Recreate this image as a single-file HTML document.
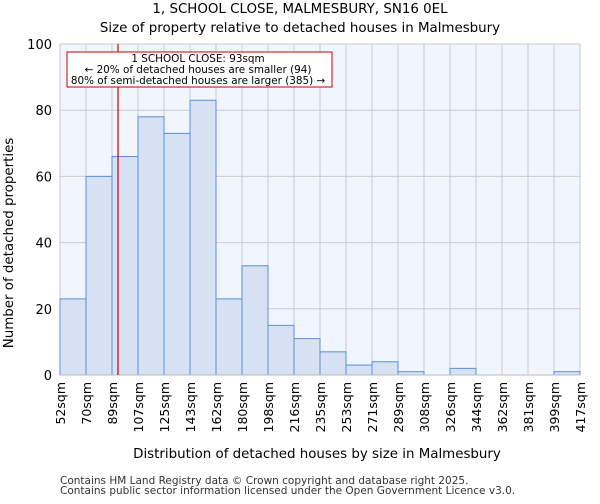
<!DOCTYPE html>
<html><head><meta charset="utf-8"><style>
body{margin:0;background:#fff;font-family:"DejaVu Sans","Liberation Sans",sans-serif}
svg text{font-family:"DejaVu Sans","Liberation Sans",sans-serif}
</style></head><body>
<svg id="c" width="600" height="500">
<text x="300" y="13" font-size="13.4" text-anchor="middle">1, SCHOOL CLOSE, MALMESBURY, SN16 0EL</text>
<text x="300" y="32" font-size="13.4" text-anchor="middle">Size of property relative to detached houses in Malmesbury</text>
<rect x="60" y="44" width="520" height="331" fill="#f1f5fd"/>
<g id="grid"></g><g id="bars"></g><g id="axes"></g>
<text transform="translate(13,243) rotate(-90)" font-size="13.4" text-anchor="middle">Number of detached properties</text>
<text x="317" y="458" font-size="13.4" text-anchor="middle">Distribution of detached houses by size in Malmesbury</text>
<text x="60" y="484" font-size="10.5" fill="#333">Contains HM Land Registry data © Crown copyright and database right 2025.</text>
<text x="60" y="494" font-size="10.5" fill="#333">Contains public sector information licensed under the Open Government Licence v3.0.</text>
<line x1="118" y1="44" x2="118" y2="375" stroke="#cc0000" stroke-width="1.2"/>
<rect x="67" y="52" width="265" height="35" fill="#fff" stroke="#cc0000"/>
<text x="198" y="62" font-size="10.4" text-anchor="middle">1 SCHOOL CLOSE: 93sqm</text>
<text x="198" y="73" font-size="10.4" text-anchor="middle">← 20% of detached houses are smaller (94)</text>
<text x="198" y="84" font-size="10.4" text-anchor="middle">80% of semi-detached houses are larger (385) →</text>
</svg>
<script>
const categories=["52sqm","70sqm","89sqm","107sqm","125sqm","143sqm","162sqm","180sqm","198sqm","216sqm","235sqm","253sqm","271sqm","289sqm","308sqm","326sqm","344sqm","362sqm","381sqm","399sqm","417sqm"];
const counts=[23,60,66,78,73,83,23,33,15,11,7,3,4,1,0,2,0,0,0,1];
const yTicks=[0,20,40,60,80,100];
const NS="http://www.w3.org/2000/svg";
const X0=60,X1=580,Y0=375,Y1=44,YMAX=100;
const bw=(X1-X0)/counts.length;
const xs=i=>X0+i*bw;
const ys=v=>Y0-(v/YMAX)*(Y0-Y1);
function mk(t,a,p){const e=document.createElementNS(NS,t);for(const k in a)e.setAttribute(k,a[k]);p.appendChild(e);return e;}
const grid=document.getElementById('grid'),bars=document.getElementById('bars'),axes=document.getElementById('axes');
yTicks.forEach(v=>{
 const l=mk('line',{x1:X0,x2:X1,y1:ys(v),y2:ys(v),stroke:'#cccccc'},grid);
 
 
 const t=mk('text',{x:X0-8,y:ys(v)+5,'font-size':13,'text-anchor':'end'},axes);
 t.textContent=v;
 
 
});
categories.forEach((c,i)=>{
 const x=xs(i);
 const l=mk('line',{x1:x,x2:x,y1:Y1,y2:Y0,stroke:'#cccccc'},grid);
 
 
 const t=mk('text',{transform:`translate(${x+5},382) rotate(-90)`,'font-size':12.5,'text-anchor':'end'},axes);
 t.textContent=c;
 
 
});
counts.forEach((v,i)=>{
 const r=mk('rect',{x:xs(i),y:ys(v),width:bw,height:Y0-ys(v),fill:'#d6e1f4',stroke:'#5b8fd9','stroke-width':1},bars);
 
 
});
const ax=mk('line',{x1:X0,x2:X1,y1:Y0,y2:Y0,stroke:'#bbbbbb'},axes);


</script>
</body></html>
